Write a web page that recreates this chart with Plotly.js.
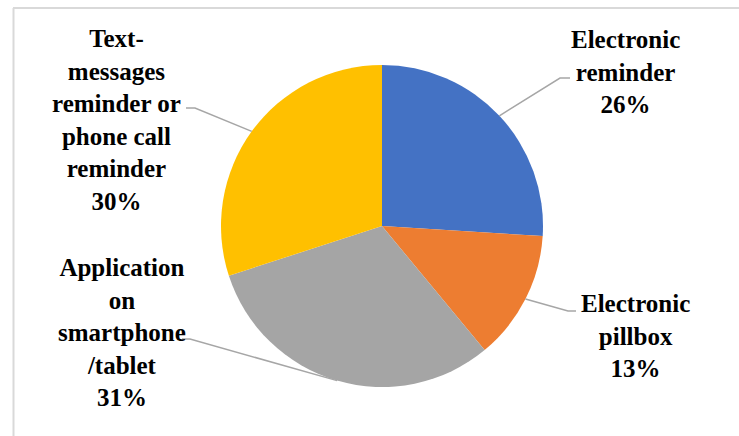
<!DOCTYPE html>
<html>
<head>
<meta charset="utf-8">
<script src="https://cdn.plot.ly/plotly-3.0.1.min.js"></script>
<style>
html,body{margin:0;padding:0;background:#fff;}
#chart{width:739px;height:436px;}
#warm{position:absolute;left:-2000px;top:0;font-family:"Liberation Serif";font-weight:bold;font-size:25px;}
</style>
</head>
<body>
<div id="warm">Electronic reminder pillbox Application smartphone 0123456789%</div>
<div id="chart"></div>
<script>
// Data
const labels = ["Electronic reminder", "Electronic pillbox", "Application on smartphone /tablet", "Text-messages reminder or phone call reminder"];
const labelLines = [
  ["Electronic", "reminder"],
  ["Electronic", "pillbox"],
  ["Application", "on", "smartphone", "/tablet"],
  ["Text-", "messages", "reminder or", "phone call", "reminder"]
];
const values = [26, 13, 31, 30];
const colors = ["#4472C4", "#ED7D31", "#A5A5A5", "#FFC000"];

// Layout geometry (pixels)
const W = 739, H = 436;
const cx = 382, cy = 226, R = 161;
const labelPos = [ [625, 72], [635, 336], [122, 332], [117, 120] ];
const elbows = [ [[560, 78], [570, 78]], [[568, 311], [576, 311]], [[190, 339], [182, 339]], [[195, 108], [186, 108]] ];

const px = x => x / W;
const py = y => 1 - y / H;

function draw() {
  const total = values.reduce((a, b) => a + b, 0);
  let cum = 0;
  const shapes = [];
  const annotations = [];
  values.forEach((v, i) => {
    const mid = (cum + v / 2) / total * 2 * Math.PI;
    cum += v;
    const ex = cx + R * Math.sin(mid), ey = cy - R * Math.cos(mid);
    const e1 = elbows[i][0], e2 = elbows[i][1];
    shapes.push({
      type: "path", xref: "paper", yref: "paper",
      path: `M ${px(ex)} ${py(ey)} L ${px(e1[0])} ${py(e1[1])} L ${px(e2[0])} ${py(e2[1])}`,
      line: {color: "#A6A6A6", width: 1.5}
    });
    const pct = Math.round(v / total * 100) + "%";
    annotations.push({
      xref: "paper", yref: "paper", x: px(labelPos[i][0]), y: py(labelPos[i][1]),
      xanchor: "center", yanchor: "middle", showarrow: false, align: "center",
      text: labelLines[i].concat([pct]).join("<br>"),
      font: {family: "Liberation Serif", size: 25, color: "#000", weight: "bold"}
    });
  });

  shapes.push({type: "line", xref: "paper", yref: "paper", x0: px(13), x1: px(739), y0: py(8), y1: py(8), line: {color: "#D9D9D9", width: 2}});
  shapes.push({type: "line", xref: "paper", yref: "paper", x0: px(13.5), x1: px(13.5), y0: py(8), y1: py(436), line: {color: "#D9D9D9", width: 2}});

  const trace = {
    type: "pie",
    labels: labels,
    values: values,
    sort: false,
    direction: "clockwise",
    rotation: 0,
    textinfo: "none",
    hoverinfo: "label+percent",
    marker: {colors: colors, line: {width: 0}},
    domain: {x: [px(cx - R), px(cx + R)], y: [py(cy + R), py(cy - R)]},
    showlegend: false
  };

  Plotly.newPlot("chart", [trace], {
    width: W, height: H,
    margin: {l: 0, r: 0, t: 0, b: 0},
    paper_bgcolor: "#fff",
    showlegend: false,
    shapes: shapes,
    annotations: annotations
  }, {displayModeBar: false, staticPlot: true});
}

draw();
if (document.fonts && document.fonts.load) {
  document.fonts.load('bold 25px "Liberation Serif"').then(() => document.fonts.ready).then(draw).catch(() => {});
}
</script>
</body>
</html>
